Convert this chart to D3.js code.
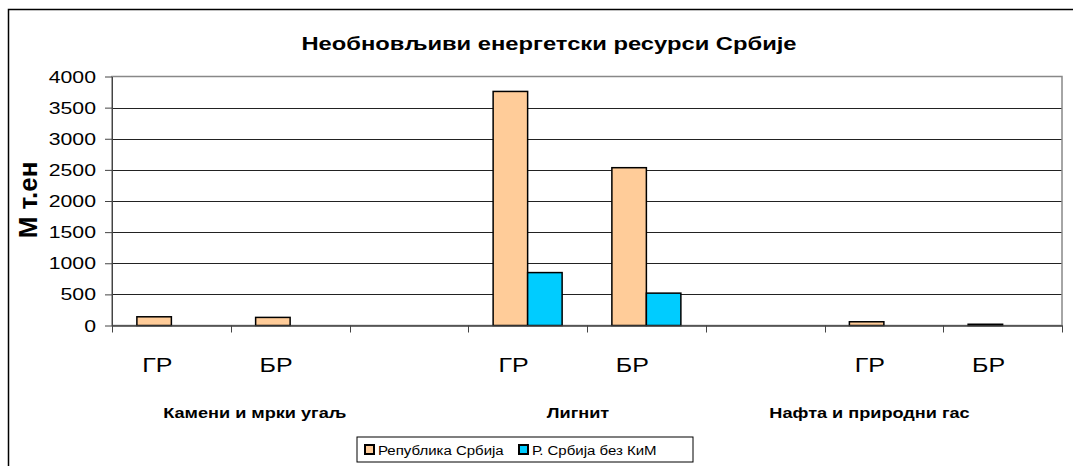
<!DOCTYPE html>
<html>
<head>
<meta charset="utf-8">
<script src="https://cdn.jsdelivr.net/npm/d3@7"></script>
<style>
  body { margin: 0; background: #fff; }
  svg text { font-family: "Liberation Sans", Arial, sans-serif; fill: #000; }
</style>
</head>
<body>
<div class="chart"></div>
<script>
// подаци
var categories = ['ГР', 'БР', '', 'ГР', 'БР', '', 'ГР', 'БР'];
var groupNames = ['Камени и мрки угаљ', 'Лигнит', 'Нафта и природни гас'];
var seriesNames = ['Република Србија', 'Р. Србија без КиМ'];
var serbia = [140, 130, 0, 3760, 2535, 0, 60, 20];
var serbiaNoKiM = [0, 0, 0, 850, 520, 0, 0, 0];
var yTicks = [0, 500, 1000, 1500, 2000, 2500, 3000, 3500, 4000];

var colors = ['#FFCC99', '#00CCFF'];
var svgWidth = 1073, svgHeight = 466;
// положај области графика
var plotLeft = 112, plotRight = 1062, plotTop = 76.5, plotBottom = 325.5;
var sx = 1.25; // текст је развучен по ширини

var svg = d3.select('.chart')
    .append('svg')
    .attr('width', svgWidth)
    .attr('height', svgHeight);

// оквир
svg.append('path')
    .attr('d', 'M8.5,' + svgHeight + 'V9.5H' + svgWidth)
    .style('fill', 'none')
    .style('stroke', '#000')
    .style('stroke-width', 1.5);

function stretched(g, x, y, txt) {
    return g.append('text')
        .attr('transform', 'translate(' + x + ',' + y + ') scale(' + sx + ',1)')
        .text(txt);
}

// наслов
stretched(svg, 549, 50, 'Необновљиви енергетски ресурси Србије')
    .attr('text-anchor', 'middle')
    .style('font-size', '19px')
    .style('font-weight', 'bold');

var x = d3.scaleBand()
    .domain(d3.range(categories.length))
    .range([plotLeft, plotRight])
    .paddingInner(0)
    .paddingOuter(0);

var y = d3.scaleLinear()
    .domain([0, 4000])
    .range([plotBottom, plotTop]);

// мрежа
svg.append('g')
    .selectAll('line')
    .data(yTicks.filter(function(d) { return d > 0 && d < 4000; }))
    .enter()
    .append('line')
    .attr('x1', plotLeft)
    .attr('x2', plotRight)
    .attr('y1', function(d) { return Math.round(y(d)) + 0.5; })
    .attr('y2', function(d) { return Math.round(y(d)) + 0.5; })
    .style('stroke', '#222');

// оквир области графика
svg.append('rect')
    .attr('x', plotLeft)
    .attr('y', plotTop)
    .attr('width', plotRight - plotLeft)
    .attr('height', plotBottom - plotTop)
    .style('fill', 'none')
    .style('stroke', '#888')
    .style('stroke-width', 1.5);

// y оса
var yAxis = d3.axisLeft(y)
    .tickValues(yTicks)
    .tickSizeInner(7)
    .tickSizeOuter(0)
    .tickFormat('');
svg.append('g')
    .attr('transform', 'translate(' + plotLeft + ',0)')
    .call(yAxis)
    .call(function(g) { g.selectAll('path, line').style('stroke', '#444'); });

var yLabels = svg.append('g');
yTicks.forEach(function(d) {
    stretched(yLabels, 96, y(d) + 6, d)
        .attr('text-anchor', 'end')
        .style('font-size', '17px');
});

// стубови
var barW = 34.5;
var series = [serbia, serbiaNoKiM];
series.forEach(function(vals, s) {
    svg.append('g')
        .selectAll('rect')
        .data(vals.map(function(v, i) { return { v: v, i: i }; })
            .filter(function(d) { return d.v > 0; }))
        .enter()
        .append('rect')
        .attr('x', function(d) { return x(d.i) + x.bandwidth() / 2 - barW + s * barW; })
        .attr('y', function(d) { return y(d.v); })
        .attr('width', barW)
        .attr('height', function(d) { return plotBottom - y(d.v); })
        .style('fill', colors[s])
        .style('stroke', '#000')
        .style('stroke-width', 1.5);
});

// x оса
var xAxis = d3.axisBottom(x)
    .tickSizeInner(0)
    .tickSizeOuter(0)
    .tickFormat('');
svg.append('g')
    .attr('transform', 'translate(0,' + plotBottom + ')')
    .call(xAxis)
    .call(function(g) { g.select('.domain').style('stroke', '#444').style('stroke-width', 1.5); });

// подеоци између категорија
svg.append('g')
    .selectAll('line')
    .data(d3.range(categories.length + 1))
    .enter()
    .append('line')
    .attr('x1', function(i) { return Math.round(plotLeft + i * x.step()) + 0.5; })
    .attr('x2', function(i) { return Math.round(plotLeft + i * x.step()) + 0.5; })
    .attr('y1', plotBottom)
    .attr('y2', plotBottom + 7)
    .style('stroke', '#444');

var xLabels = svg.append('g');
categories.forEach(function(c, i) {
    stretched(xLabels, x(i) + x.bandwidth() / 2 - 14, 372, c)
        .attr('text-anchor', 'middle')
        .style('font-size', '20px');
});

// називи група
var groupAt = [[1, 24], [4, -9], [6, 45]];
groupNames.forEach(function(g, i) {
    stretched(svg, x(groupAt[i][0]) + groupAt[i][1], 418, g)
        .attr('text-anchor', 'middle')
        .style('font-size', '14.5px')
        .style('font-weight', 'bold');
});

// наслов y осе
svg.append('text')
    .attr('transform', 'translate(37,200) rotate(-90)')
    .attr('text-anchor', 'middle')
    .style('font-size', '26px')
    .style('font-weight', 'bold')
    .text('М т.ен');

// легенда
var legend = svg.append('g').attr('transform', 'translate(357,437)');
legend.append('rect')
    .attr('width', 336)
    .attr('height', 25)
    .style('fill', '#fff')
    .style('stroke', '#000');
var legX = [8, 162];
seriesNames.forEach(function(n, i) {
    legend.append('rect')
        .attr('x', legX[i])
        .attr('y', 8)
        .attr('width', 9)
        .attr('height', 9)
        .style('fill', colors[i])
        .style('stroke', '#000')
        .style('stroke-width', 2);
    stretched(legend, legX[i] + 13, 17.5, n)
        .style('font-size', '12px');
});
</script>
</body>
</html>
